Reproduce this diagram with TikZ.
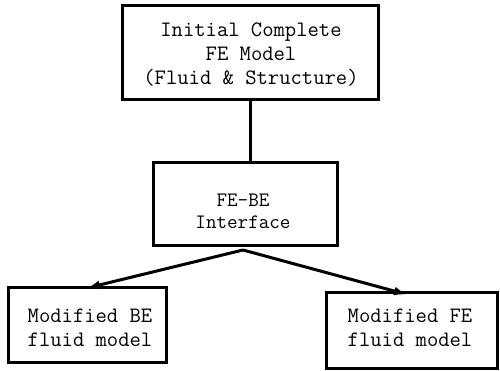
\documentclass[tikz,border=0pt]{standalone}
\usetikzlibrary{arrows.meta}
\begin{document}
\begin{tikzpicture}[x=1pt,y=-1pt,
  box/.style={draw,line width=3pt,rectangle,inner sep=0pt},
  txt/.style={align=center,inner sep=0pt,
    font=\ttfamily\fontsize{22}{24}\selectfont},
  link/.style={line width=3pt},
  arr/.style={line width=3pt,-{Latex[length=13pt,width=9pt]}}]
\useasboundingbox (0,0) rectangle (500,371);
% initial model
\node[box,minimum width=256pt,minimum height=94pt] (init) at (250,53) {};
\node[txt] (initt) at (251,55) {Initial Complete\\FE Model\\(Fluid \& Structure)};
% interface
\node[box,minimum width=184pt,minimum height=82pt] (iface) at (245,204) {};
\node[txt,font=\ttfamily\fontsize{20.5}{22}\selectfont] (ifacet) at (243,211) {FE-BE\\Interface};
% modified models
\node[box,minimum width=158pt,minimum height=75pt] (bem) at (87,325) {};
\node[txt] (bemt) at (90,328) {Modified BE\\fluid model};
\node[box,minimum width=171pt,minimum height=76pt] (fem) at (412,330) {};
\node[txt] (femt) at (410,328) {Modified FE\\fluid model};
\coordinate (split) at (243,250);
\draw[link] (init.south) -- (init.south |- iface.north);
\draw[arr] (split) -- ([yshift=-2pt]bem.north);
\draw[arr] (split) -- ([xshift=-5pt,yshift=-4pt]fem.north);
\end{tikzpicture}
\end{document}
